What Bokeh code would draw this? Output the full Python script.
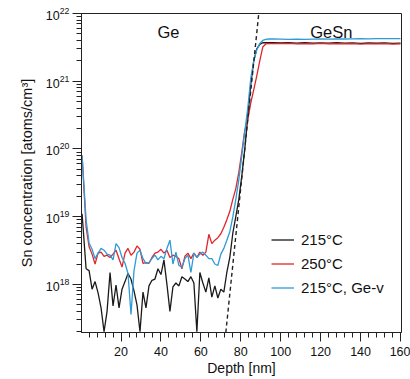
from bokeh.plotting import figure
from bokeh.models import Range1d, Legend, LegendItem, Label, SingleIntervalTicker, LogTicker
from bokeh.embed import file_html
from bokeh.resources import INLINE

# ---------------- data ----------------
depth = [0.5, 2.5, 4, 5.5, 7, 8.5, 10, 11.5, 13, 14.5, 16, 17.5, 19, 20.5, 22, 23.5,
         25, 26.5, 28, 29.5, 31, 32.5, 34, 35.5, 37, 38.5, 40, 41.5, 43, 44.5, 46, 47.5,
         49, 50.5, 52, 53.5, 55, 56.5, 58, 59.5, 61, 62.5, 64, 65.5, 67, 68.5, 70, 71.5, 73,
         74.5, 76, 77.5, 79, 80.5, 82, 83.5, 85, 86.5, 88, 89.5, 91, 92.5, 94,
         96, 100, 104, 108, 112, 116, 120, 124, 128, 132, 136, 140, 144, 148, 152, 156, 160]

sn_215 = [1.1e19, 1.7e18, 1.6e18, 8.5e17, 1.1e18, 7.5e17, 4.5e17, 2.0e17, 4.0e17, 1.5e18,
          4.8e17, 9.8e17, 4.5e17, 8.5e17, 1.1e18, 1.45e18, 1.2e18, 8.0e17, 5.0e17, 2.0e17,
          7.7e17, 4.5e17, 9.5e17, 1.15e18, 1.2e18, 1.7e18, 1.4e18, 2.3e18, 1.0e18, 4.0e17,
          9.2e17, 1.05e18, 9.5e17, 1.3e18, 1.2e18, 1.1e18, 1.3e18, 1.05e18, 2.0e17, 1.5e18,
          1.05e18, 7.7e17, 1.25e18, 6.5e17, 9.5e17, 6.3e17, 8.5e17, 7.7e17, 1.5e18,
          2.5e18, 5.7e18, 1.0e19, 1.8e19, 4.0e19, 1.0e20, 3.0e20, 9.0e20, 2.0e21, 3.0e21,
          3.5e21, 3.7e21, 3.72e21, 3.7e21,
          3.7e21, 3.68e21, 3.72e21, 3.66e21, 3.7e21, 3.64e21, 3.69e21, 3.66e21, 3.71e21,
          3.65e21, 3.68e21, 3.63e21, 3.67e21, 3.64e21, 3.69e21, 3.62e21, 3.66e21]

sn_250 = [8.0e19, 7.0e18, 3.6e18, 2.8e18, 2.0e18, 2.9e18, 3.0e18, 2.6e18, 2.7e18, 2.5e18,
          2.8e18, 3.2e18, 2.4e18, 1.8e18, 2.9e18, 3.4e18, 2.7e18, 3.0e18, 3.7e18, 3.3e18,
          2.05e18, 2.1e18, 2.05e18, 2.5e18, 2.9e18, 3.0e18, 3.3e18, 2.9e18, 3.2e18, 2.5e18,
          2.7e18, 2.6e18, 2.4e18, 1.7e18, 2.6e18, 2.9e18, 2.4e18, 2.9e18, 2.5e18, 3.0e18,
          2.7e18, 3.0e18, 5.5e18, 4.0e18, 4.5e18, 4.9e18, 5.6e18, 7.0e18, 9.0e18,
          1.2e19, 1.8e19, 2.6e19, 4.5e19, 9.0e19, 1.9e20, 2.7e20, 4.8e20, 7.5e20, 1.2e21,
          2.0e21, 3.2e21, 3.55e21, 3.6e21,
          3.6e21, 3.58e21, 3.62e21, 3.55e21, 3.6e21, 3.57e21, 3.61e21, 3.55e21, 3.59e21,
          3.56e21, 3.6e21, 3.54e21, 3.58e21, 3.55e21, 3.59e21, 3.53e21, 3.57e21]

sn_215_gev = [8.0e19, 9.0e18, 4.1e18, 3.3e18, 2.4e18, 2.9e18, 3.4e18, 3.2e18, 2.8e18, 2.7e18,
              2.3e18, 4.0e18, 3.5e18, 2.5e18, 2.05e18, 1.45e18, 3.6e17, 1.6e18, 2.9e18, 3.2e18,
              2.4e18, 2.05e18, 2.1e18, 2.4e18, 2.7e18, 2.3e18, 2.6e18, 2.4e18, 3.4e18, 4.5e18,
              2.0e18, 3.0e18, 1.9e18, 1.8e18, 2.4e18, 2.7e18, 1.5e18, 2.9e18, 2.5e18, 2.8e18,
              3.0e18, 2.7e18, 2.4e18, 2.4e18, 2.0e18, 1.9e18, 2.8e18, 3.4e18, 4.5e18,
              6.0e18, 9.9e18, 1.8e19, 3.5e19, 8.0e19, 1.8e20, 4.0e20, 1.1e21, 2.0e21, 2.9e21,
              3.6e21, 4.0e21, 4.15e21, 4.2e21,
              4.2e21, 4.18e21, 4.15e21, 4.17e21, 4.15e21, 4.18e21, 4.2e21, 4.19e21, 4.21e21,
              4.2e21, 4.22e21, 4.24e21, 4.23e21, 4.25e21, 4.26e21, 4.25e21, 4.27e21]

guide_depth = [72.5, 89.0]
guide_sn = [1.95e17, 1.0e22]

series_labels = ["215°C", "250°C", "215°C, Ge-v"]
region_labels = ["Ge", "GeSn"]

FONT = "Liberation Sans"

p = figure(width=410, height=379, y_axis_type="log",
           x_range=Range1d(0.2, 160.5), y_range=Range1d(1.95e17, 1e22),
           output_backend="svg", toolbar_location=None, title=None,
           min_border_left=81, min_border_right=9, min_border_top=13, min_border_bottom=47)

p.background_fill_color = "white"
p.border_fill_color = "white"
p.outline_line_color = "#222222"
p.outline_line_width = 1
p.xgrid.visible = False
p.ygrid.visible = False

r_black = p.line(depth, sn_215, line_color="#1a1a1a", line_width=1.3)
r_red = p.line(depth, sn_250, line_color="#e0252b", line_width=1.3)
r_blue = p.line(depth, sn_215_gev, line_color="#2e9ad6", line_width=1.3)
p.line(guide_depth, guide_sn, line_color="#222222", line_width=1.4, line_dash="4 3")

xa = p.xaxis[0]
xa.ticker = SingleIntervalTicker(interval=20, num_minor_ticks=5)
ya = p.yaxis[0]
ya.ticker = LogTicker(desired_num_ticks=6, num_minor_ticks=10)

for ax in (xa, ya):
    ax.axis_line_color = "#222222"
    ax.major_tick_line_color = "#222222"
    ax.minor_tick_line_color = "#222222"
    ax.major_tick_in = 0
    ax.minor_tick_in = 0
    ax.major_label_text_font = FONT
    ax.major_label_text_font_size = "12.5px"
    ax.major_label_text_color = "#111111"
    ax.axis_label_text_font = FONT
    ax.axis_label_text_font_style = "normal"
    ax.axis_label_text_color = "#111111"

xa.major_tick_out = 9
xa.minor_tick_out = 5
xa.major_label_standoff = 5
xa.axis_label = "Depth [nm]"
xa.axis_label_text_font_size = "14px"
xa.axis_label_standoff = 1

ya.major_tick_out = 9
ya.minor_tick_out = 5
ya.major_label_standoff = 3
ya.axis_label = "Sn concentration [atoms/cm³]"
ya.axis_label_text_font_size = "14.5px"
ya.axis_label_standoff = 8

legend = Legend(items=[LegendItem(label=series_labels[0], renderers=[r_black]),
                       LegendItem(label=series_labels[1], renderers=[r_red]),
                       LegendItem(label=series_labels[2], renderers=[r_blue])],
                location=(190, 36), padding=0, margin=0, spacing=7,
                glyph_width=23, glyph_height=17, label_height=17, label_standoff=7,
                border_line_alpha=0, background_fill_alpha=0,
                label_text_font=FONT, label_text_font_size="15px", label_text_color="#111111")
p.add_layout(legend)

p.add_layout(Label(x=43.8, y=5.4e21, text=region_labels[0], text_align="center",
                   text_baseline="alphabetic", text_font=FONT, text_font_size="16.5px",
                   text_color="#111111"))
p.add_layout(Label(x=125.3, y=5.4e21, text=region_labels[1], text_align="center",
                   text_baseline="alphabetic", text_font=FONT, text_font_size="16.5px",
                   text_color="#111111"))

open("out.html", "w").write(file_html(p, INLINE))
